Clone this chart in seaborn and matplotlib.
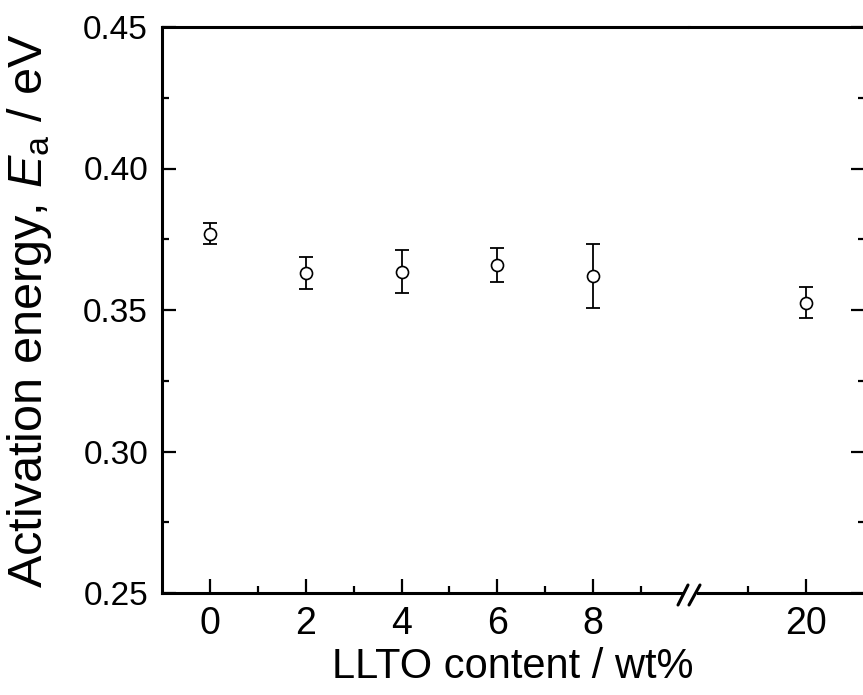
import matplotlib
matplotlib.use('Agg')
import matplotlib.pyplot as plt
import seaborn as sns
import pandas as pd
from matplotlib.lines import Line2D

# ---- data ----
content = [0, 2, 4, 6, 8, 20]
energy = [0.377, 0.363, 0.3635, 0.3658, 0.362, 0.3526]
err = [0.0038, 0.0056, 0.0076, 0.0060, 0.0113, 0.0055]
left_ticks = [0, 2, 4, 6, 8]
left_minor = [1, 3, 5, 7, 9]
right_ticks = [20]
right_minor = [19, 21]
y_ticks = [0.25, 0.30, 0.35, 0.40, 0.45]
x_label = 'LLTO content / wt%'
y_label = r'Activation energy, $E_\mathrm{a}$ / eV'

sns.set_theme(style='ticks')
plt.rcParams['font.family'] = ['Liberation Sans', 'DejaVu Sans']
plt.rcParams['mathtext.fontset'] = 'custom'
plt.rcParams['mathtext.rm'] = 'Liberation Sans'
plt.rcParams['mathtext.it'] = 'Liberation Sans:italic'
plt.rcParams['text.color'] = 'black'
plt.rcParams['axes.labelcolor'] = 'black'
plt.rcParams['xtick.color'] = 'black'
plt.rcParams['ytick.color'] = 'black'

df = pd.DataFrame({'content': content, 'energy': energy, 'err': err})

W, H = 863, 695
fig = plt.figure(figsize=(W / 100, H / 100), dpi=100)
L, B, T = 162, 593, 27
brk = 689
R = 865
ax1 = fig.add_axes([L / W, 1 - B / H, (brk - L) / W, (B - T) / H])
ax2 = fig.add_axes([brk / W, 1 - B / H, (R - brk) / W, (B - T) / H])

SPW = 2.2
for ax in (ax1, ax2):
    ax.errorbar(df['content'], df['energy'], yerr=df['err'], fmt='none',
                ecolor='black', elinewidth=1.3, capsize=5.2, capthick=1.3, zorder=2)
    sns.scatterplot(data=df, x='content', y='energy', ax=ax, marker='o', s=75,
                    facecolor='white', edgecolor='black', linewidth=1.2, zorder=3)
    ax.set_xlabel('')
    ax.set_ylabel('')
    ax.set_ylim(0.25, 0.45)
    ax.set_yticks(y_ticks)
    ax.set_yticks([0.275, 0.325, 0.375, 0.425], minor=True)
    for s in ax.spines.values():
        s.set_linewidth(SPW)
        s.set_color('black')
    ax.tick_params(which='both', direction='in', colors='black', top=False)
    ax.tick_params(axis='x', labelsize=27)
    ax.tick_params(axis='y', labelsize=24)
    ax.tick_params(which='major', length=10, width=1.6)
    ax.tick_params(which='minor', length=5, width=1.6)
    ax.tick_params(axis='x', which='major', pad=9)
    ax.tick_params(axis='y', which='major', pad=10)
    ax.set_facecolor('white')

ax1.set_xlim(-1, 10)
ax1.set_xticks(left_ticks)
ax1.set_xticks(left_minor, minor=True)
ax1.set_xticklabels([str(v) for v in left_ticks])
ax1.set_yticklabels(['%.2f' % v for v in y_ticks])
ax1.spines['right'].set_visible(False)
ax1.spines['bottom'].set_bounds(-1, 9.85)
ax1.tick_params(axis='y', which='both', left=True, right=False)

ax2.set_xlim(18, 21)
ax2.set_xticks(right_ticks)
ax2.set_xticks(right_minor, minor=True)
ax2.set_xticklabels([str(v) for v in right_ticks])
ax2.spines['left'].set_visible(False)
ax2.spines['bottom'].set_bounds(18.15, 21)
ax2.tick_params(axis='y', which='both', left=False, right=True,
                labelleft=False, labelright=False)

# break marks
for (x0, x1) in [(678, 688), (689, 700)]:
    fig.add_artist(Line2D([x0 / W, x1 / W], [1 - 605 / H, 1 - 585 / H],
                          color='black', lw=SPW))

fig.text(513 / W, 1 - 667 / H, x_label, ha='center', va='center', fontsize=30)
fig.text(30 / W, 1 - 311 / H, y_label, ha='center', va='center',
         fontsize=35, rotation=90)

fig.savefig('out.png', dpi=100, facecolor='white')
